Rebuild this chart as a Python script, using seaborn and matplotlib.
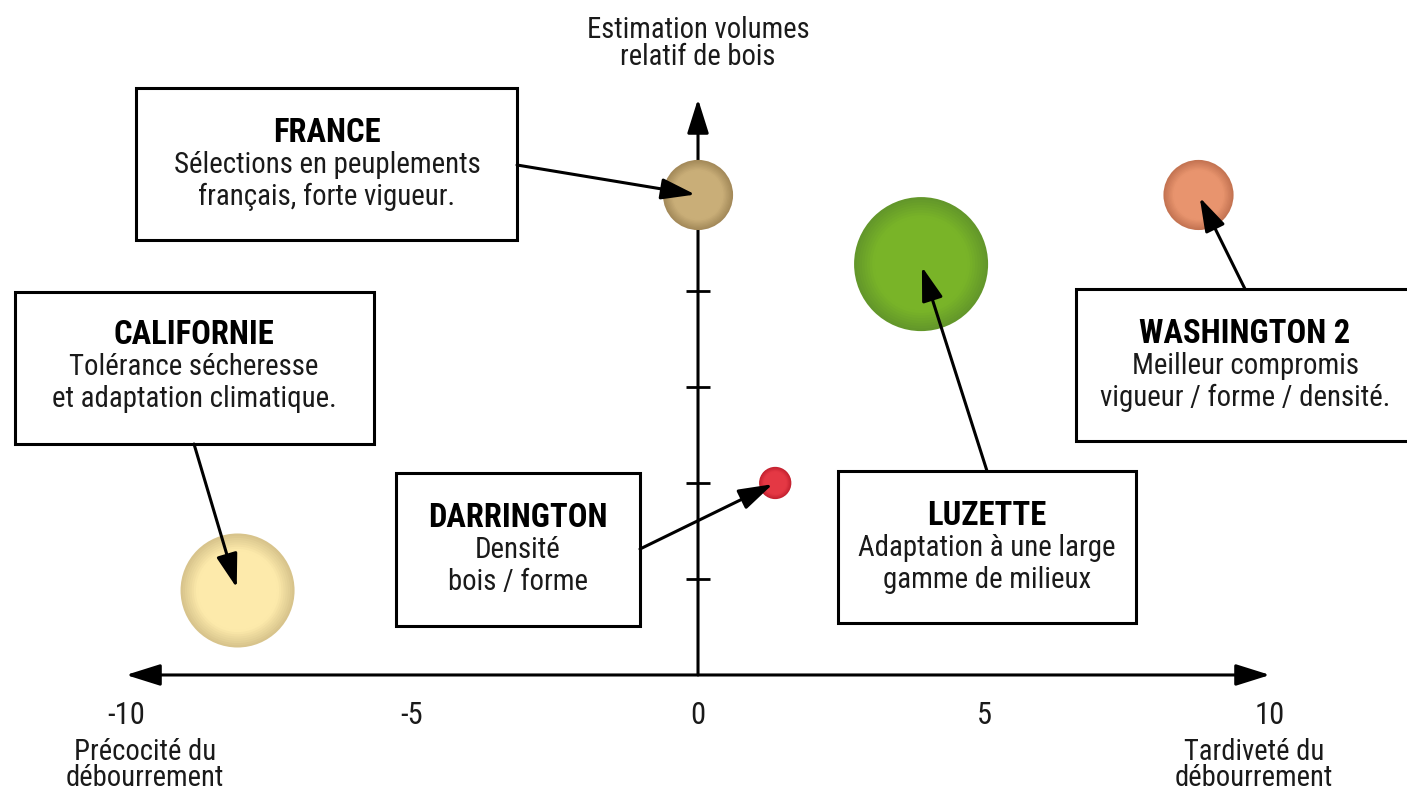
import numpy as np
import pandas as pd
import matplotlib
matplotlib.use("Agg")
import matplotlib.pyplot as plt
import matplotlib.transforms as mtransforms
from matplotlib.patches import Rectangle
from matplotlib.colors import to_rgb
from matplotlib import font_manager
import seaborn as sns

# ---------------- data ----------------
varieties = ["CALIFORNIE", "FRANCE", "DARRINGTON", "LUZETTE", "WASHINGTON 2"]
debourrement = [-8.05, 0.0, 1.35, 3.9, 8.75]      # x : précocité (-) / tardiveté (+)
volume = [0.88, 5.0, 2.0, 4.28, 5.0]               # y : estimation volume relatif de bois
bubble_size = [32.5, 12.3, 2.6, 44.9, 12.3]        # relative bubble area
descriptions = [
    ["Tolérance sécheresse", "et adaptation climatique."],
    ["Sélections en peuplements", "français, forte vigueur."],
    ["Densité", "bois / forme"],
    ["Adaptation à une large", "gamme de milieux"],
    ["Meilleur compromis", "vigueur / forme / densité."],
]
x_ticks = [-10, -5, 0, 5, 10]
x_tick_labels = ["-10", "-5", "0", "5", "10"]
y_minor_ticks = [1, 2, 3, 4, 5]
x_minor_ticks = [-5, 5]

colors_dark = ["#d8c48c", "#a48a5a", "#c42230", "#63972a", "#c47452"]
colors_light = ["#fdeaab", "#c9ae78", "#e43844", "#79b428", "#e8946e"]

df = pd.DataFrame({"variety": varieties, "x": debourrement, "y": volume,
                   "size": bubble_size})

# ---------------- figure ----------------
W, H = 1407, 792
sns.set_theme(style="white")
names = {f.name for f in font_manager.fontManager.ttflist}
narrow = [n for n in ["Liberation Sans Narrow", "Roboto Condensed", "Open Sans Condensed",
                      "DejaVu Sans Condensed"] if n in names]
plt.rcParams["font.family"] = narrow + ["DejaVu Sans"]
plt.rcParams["font.stretch"] = "condensed"
FS_T, FS_B, FS_A = (23.5, 20.8, 20.6)
TXT_W = "normal"

fig = plt.figure(figsize=(W / 100, H / 100), dpi=100)
ax = fig.add_axes([0, 0, 1, 1])
ax.set_xlim(-12.203, 12.395)
ax.set_ylim(-1.219, 7.031)
ax.set_facecolor("white")

pix = mtransforms.Affine2D().scale(1 / W, -1 / H).translate(0, 1) + fig.transFigure

# ---------------- bubbles (layered for shading) ----------------
PT2_PER_UNIT = 207.4
n_layers = 14
for k in range(n_layers):
    t = k / (n_layers - 1)
    radius_frac = 1.0 - 0.5 * t
    pal = {}
    for v, cd, cl in zip(varieties, colors_dark, colors_light):
        a = np.array(to_rgb(cd)); b = np.array(to_rgb(cl))
        tt = min(1.0, t * 1.8)
        pal[v] = tuple(a + (b - a) * tt)
    sns.scatterplot(data=df, x="x", y="y", hue="variety", palette=pal,
                    s=df["size"].values * PT2_PER_UNIT * radius_frac ** 2,
                    linewidth=0, legend=False, ax=ax, zorder=3)

# ---------------- axes ----------------
for sp in ax.spines.values():
    sp.set_visible(False)
ax.spines["bottom"].set_position(("data", 0))
ax.spines["left"].set_position(("data", 0))
ax.set_xlabel("")
ax.set_ylabel("")
ax.set_xticks(x_ticks)
ax.set_xticklabels(x_tick_labels, fontsize=22, color="#1a1a1a", fontweight=TXT_W)
ax.set_xticks(x_minor_ticks, minor=True)
ax.set_yticks([])
ax.set_yticks(y_minor_ticks, minor=True)
ax.tick_params(axis="x", which="major", length=0, pad=19, bottom=True)
ax.tick_params(axis="x", which="minor", length=17, width=2.0, direction="inout",
               color="black", bottom=True)
ax.tick_params(axis="y", which="minor", length=17, width=2.0, direction="inout",
               color="black", left=True)
ax.grid(False)

arrow_kw = dict(lw=2.2, color="black", shrinkA=0, shrinkB=0, mutation_scale=30)
ax.annotate("", xy=(10, 0), xytext=(-10, 0),
            arrowprops=dict(arrowstyle="<|-|>,head_length=0.7,head_width=0.22", **arrow_kw), zorder=2)
ax.annotate("", xy=(0, 6.0), xytext=(0, 0),
            arrowprops=dict(arrowstyle="-|>,head_length=0.7,head_width=0.22", **arrow_kw), zorder=2)

# axis titles
for (tx, ty, s) in [(698, 30, "Estimation volumes"), (698, 57, "relatif de bois"),
                    (145, 752, "Précocité du"), (145, 778, "débourrement"),
                    (1254, 752, "Tardiveté du"), (1254, 778, "débourrement")]:
    ax.text(tx, ty, s, transform=pix, ha="center", va="center", fontsize=FS_A,
            color="#1a1a1a", fontweight=TXT_W)

# ---------------- annotation boxes ----------------
boxes = {
    "CALIFORNIE": ((15, 292, 374, 444), 194, 335, (194, 444)),
    "FRANCE": ((136, 88, 517, 240), 327, 133, (517, 165)),
    "DARRINGTON": ((396, 473, 640, 626), 518, 518, (640, 549)),
    "LUZETTE": ((838, 471, 1136, 623), 987, 516, (987, 471)),
    "WASHINGTON 2": ((1076, 289, 1420, 441), 1245, 334, (1245, 289)),
}
for i, v in enumerate(varieties):
    (l, t, r, b), cx, ty, (ax0, ay0) = boxes[v]
    rect = Rectangle((l, b), r - l, t - b, transform=pix, facecolor="white",
                     edgecolor="black", lw=2.2, zorder=4, clip_on=False)
    ax.add_patch(rect)
    ax.text(cx, ty, v, transform=pix, ha="center", va="center", fontsize=FS_T,
            fontweight="bold", zorder=5, color="black")
    for j, line in enumerate(descriptions[i]):
        ax.text(cx, ty + 32 * (j + 1), line, transform=pix, ha="center",
                va="center", fontsize=FS_B, zorder=5, color="#1a1a1a", fontweight=TXT_W)
    ax.annotate("", xy=(df.x[i], df.y[i]), xycoords="data",
                xytext=(ax0, ay0), textcoords=pix,
                arrowprops=dict(arrowstyle="-|>,head_length=0.8,head_width=0.25",
                                lw=2.2, color="black", shrinkA=0, shrinkB=2,
                                mutation_scale=26),
                zorder=6)

fig.savefig("out.png", dpi=100, facecolor="white")
